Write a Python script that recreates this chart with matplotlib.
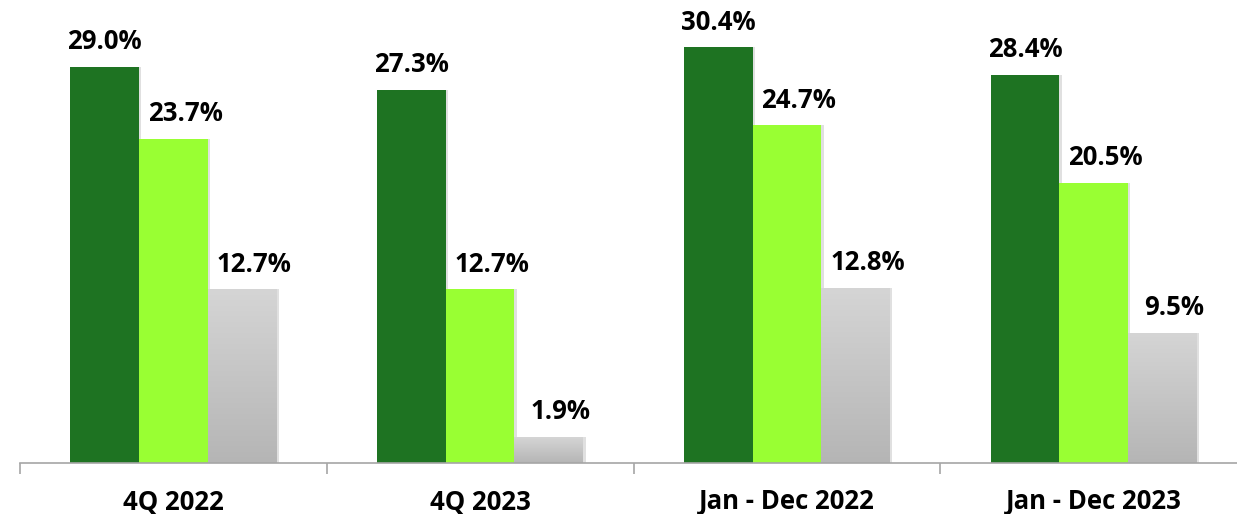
import matplotlib.pyplot as plt
import numpy as np

categories = ['4Q 2022', '4Q 2023', 'Jan - Dec 2022', 'Jan - Dec 2023']
series_a = [29.0, 27.3, 30.4, 28.4]
series_b = [23.7, 12.7, 24.7, 20.5]
series_c = [12.7, 1.9, 12.8, 9.5]

colors = ['#1e7322', '#99ff33', None]
label_shift = [0, 8.5, 8.5]  # points, labels of the 2nd/3rd series sit a bit right
plt.rcParams['font.family'] = ['Open Sans', 'DejaVu Sans']

fig = plt.figure(figsize=(12.37, 5.14), dpi=100)
ax = fig.add_axes([20 / 1237, (514 - 463) / 514, 1227 / 1237, 463 / 514])

width = 0.224
x = np.arange(len(categories))
gray_grad = np.linspace(0, 1, 256).reshape(-1, 1)
gray_cmap = plt.matplotlib.colors.LinearSegmentedColormap.from_list('g', ['#b5b5b5', '#d5d5d5'])

for i, vals in enumerate([series_a, series_b, series_c]):
    pos = x + (i - 1) * width
    if colors[i] is not None:
        bars = ax.bar(pos, vals, width, color=colors[i], zorder=2)
    else:
        bars = ax.bar(pos, vals, width, color='none', zorder=2)
        for b in bars:
            x0, h = b.get_x(), b.get_height()
            ax.imshow(gray_grad, extent=[x0, x0 + width, 0, h], origin='lower',
                      cmap=gray_cmap, aspect='auto', zorder=2)
    # soft shadow
    for b in bars:
        ax.bar(b.get_x() + b.get_width() / 2 + 0.008, b.get_height(), width,
               color='#000000', alpha=0.12, zorder=1)
    for p, v in zip(pos, vals):
        ax.annotate(f'{v:.1f}%', (p, v), xytext=(label_shift[i], 8.5), textcoords='offset points',
                    ha='center', va='bottom', fontsize=18.5, fontweight='bold')

ax.set_xlim(-0.5, 3.5)
ax.set_ylim(0, 463 / 13.67)
for s in ['top', 'right', 'left']:
    ax.spines[s].set_visible(False)
ax.spines['bottom'].set_color('#a6a6a6')
ax.spines['bottom'].set_linewidth(1.2)
ax.set_yticks([])
ax.set_xticks(x)
ax.set_xticklabels(categories, fontsize=18.5, fontweight='bold')
ax.tick_params(axis='x', length=0, pad=18)
ax.set_xticks(np.arange(-0.5, 4.0, 1.0), minor=True)
ax.tick_params(axis='x', which='minor', length=8, color='#a6a6a6', width=1.2)

fig.savefig('out.png', dpi=100)
